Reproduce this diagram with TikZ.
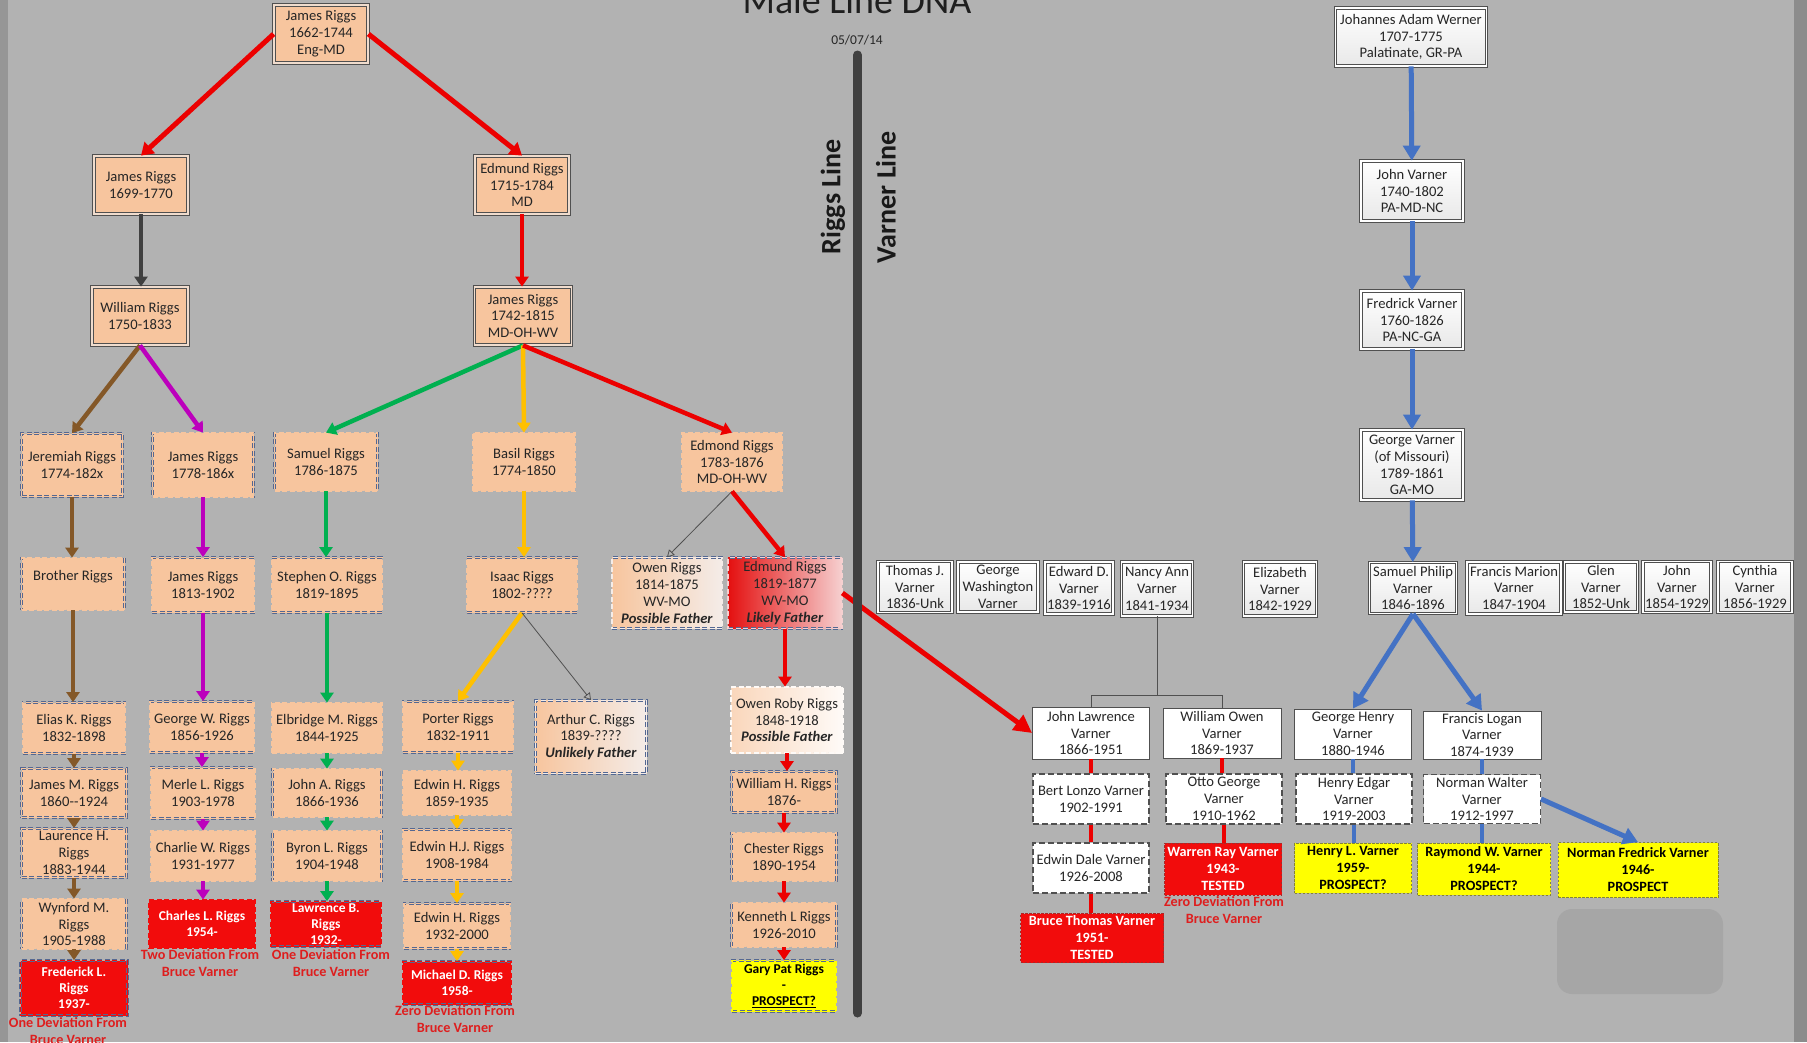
\documentclass[tikz,border=0pt]{standalone}
\usepackage{fontspec}
\setmainfont{Carlito}
\usetikzlibrary{arrows.meta}
\definecolor{bg}{RGB}{178,178,178}
\definecolor{bgl}{RGB}{150,150,150}
\definecolor{bgr}{RGB}{140,140,140}
\definecolor{peach}{RGB}{247,197,158}
\definecolor{peachlt}{RGB}{240,220,205}
\definecolor{peachwh}{RGB}{244,236,232}
\definecolor{txt}{RGB}{38,38,38}
\definecolor{bdr}{RGB}{80,80,80}
\definecolor{dsh}{RGB}{84,104,146}
\definecolor{rd}{RGB}{236,0,0}
\definecolor{boxred}{RGB}{242,12,12}
\definecolor{egl}{RGB}{228,16,16}
\definecolor{egr}{RGB}{246,208,208}
\definecolor{brn}{RGB}{132,88,40}
\definecolor{mag}{RGB}{188,0,188}
\definecolor{grn}{RGB}{0,176,80}
\definecolor{yel}{RGB}{255,192,0}
\definecolor{blu}{RGB}{68,114,196}
\definecolor{dgray}{RGB}{64,64,64}
\definecolor{devred}{RGB}{222,30,30}
\definecolor{yfill}{RGB}{255,255,0}
\definecolor{yb}{RGB}{130,130,60}
\definecolor{rb}{RGB}{170,40,40}
\definecolor{vgray}{RGB}{232,232,232}
\definecolor{rrect}{RGB}{166,166,166}
\newcommand\myfs{\fontsize{14.6}{16.8}\selectfont}
\newcommand\myfsb{\fontsize{13.5}{16}\selectfont\bfseries}
\newcommand\myfsbb{\fontsize{14.2}{17}\selectfont\bfseries}
\tikzset{
  base/.style={rectangle, inner sep=0pt, align=center, font=\myfs, text=txt},
  sz/.style 2 args={minimum width=#1, minimum height=#2},
  rtop/.style={base, fill=peach, draw=bdr, line width=0.8pt, double=peachlt, double distance=1.8pt},
  rdash/.style={base, fill=peach, draw=dsh, line width=0.75pt, dash pattern=on 5pt off 2.5pt, double=peach, double distance=1.4pt},
  rgrad/.style={rdash, left color=peach, right color=peachwh, double=peachwh},
  rred/.style={rdash, fill=boxred, double=boxred, text=white, font=\myfsb},
  ryel/.style={rdash, fill=yfill, double=yfill, text=black, font=\myfsb},
  vtop/.style={base, top color=white, bottom color=vgray, draw=bdr, line width=0.8pt, double=white, double distance=1.5pt},
  vwhite/.style={base, fill=white, draw=bdr, line width=0.9pt},
  vdash/.style={base, fill=white, draw=bdr, line width=1.1pt, dash pattern=on 6pt off 3pt},
  vyel/.style={base, fill=yfill, draw=yb, line width=0.7pt, dash pattern=on 2.5pt off 1.5pt, font=\myfsbb, text=black},
  vred/.style={base, fill=boxred, draw=rb, line width=0.7pt, dash pattern=on 2.5pt off 1.5pt, font=\myfsbb, text=white},
  dev/.style={font=\myfsbb, text=devred, align=center, inner sep=0pt},
  conn/.style={line width=4.5pt, -{Triangle[length=10pt,width=13pt]}},
  bigconn/.style={line width=5pt, -{Triangle[length=12pt,width=15pt]}},
  bconn/.style={line width=5pt, draw=blu, -{Triangle[length=15pt,width=17pt]}},
  thinarr/.style={line width=0.8pt, draw=bdr, -{Triangle[open,length=7pt,width=8pt]}},
  seg/.style={line width=4pt},
}
\begin{document}
\begin{tikzpicture}[x=1pt,y=-1pt]
\useasboundingbox (0,0) rectangle (1807,1042);
\fill[bg] (0,0) rectangle (1807,1042);
\fill[bgl] (0,0) rectangle (8,1042);
\fill[bgr] (1794,0) rectangle (1807,1042);

% title
\node[font=\fontsize{38}{40}\selectfont, anchor=base, text=black!88, inner sep=0pt] (title) at (857,13) {Male Line DNA};
\node[font=\fontsize{13.5}{15}\selectfont, text=txt, inner sep=0pt] (date) at (857,40) {05/07/14};

% ---------- Riggs upper ----------
\node[rtop, sz={94}{58}] (r1) at (321,34) {James Riggs\\1662-1744\\Eng-MD};
\node[rtop, sz={94}{58}] (r2) at (141,185) {James Riggs\\1699-1770};
\node[rtop, sz={94}{58}] (r3) at (522,185) {Edmund Riggs\\1715-1784\\MD};
\node[rtop, sz={96}{58}] (r4) at (140,316) {William Riggs\\1750-1833};
\node[rtop, sz={97}{58}] (r5) at (523,316) {James Riggs\\1742-1815\\MD-OH-WV};

% row 1
\node[rdash, sz={101}{63}] (j1) at (72,465) {Jeremiah Riggs\\1774-182x};
\node[rdash, sz={101}{64}] (m1) at (203,465) {James Riggs\\1778-186x};
\node[rdash, sz={103}{58}] (g1) at (326,462) {Samuel Riggs\\1786-1875};
\node[rdash, sz={102}{58}] (y1) at (524,462) {Basil Riggs\\1774-1850};
\node[rdash, sz={100}{58}] (e1) at (732,462) {Edmond Riggs\\1783-1876\\MD-OH-WV};

% row 2
\node[rdash, sz={103}{52}] (j2) at (73,584) {Brother Riggs\\\mbox{}};
\node[rdash, sz={102}{55}] (m2) at (203,585) {James Riggs\\1813-1902};
\node[rdash, sz={110}{55}] (g2) at (327,585) {Stephen O. Riggs\\1819-1895};
\node[rdash, sz={110}{55}] (y2) at (522,585) {Isaac Riggs\\1802-????};
\node[rgrad, sz={110}{71}] (o1) at (667,593) {Owen Riggs\\1814-1875\\WV-MO\\\textbf{\textit{Possible Father}}};
\node[rdash, left color=egl, right color=egr, double=egr, sz={114}{71}] (e2) at (785,593) {Edmund Riggs\\1819-1877\\WV-MO\\\textbf{\textit{Likely Father}}};

% row 3
\node[rdash, sz={102}{51}] (j3) at (74,728) {Elias K. Riggs\\1832-1898};
\node[rdash, sz={104}{51}] (m3) at (202,727) {George W. Riggs\\1856-1926};
\node[rdash, sz={110}{50}] (g3) at (327,728) {Elbridge M. Riggs\\1844-1925};
\node[rdash, sz={110}{51}] (y3) at (458,727) {Porter Riggs\\1832-1911};
\node[rgrad, sz={111}{73}] (a1) at (591,737) {Arthur C. Riggs\\1839-????\\\textbf{\textit{Unlikely Father}}};
\node[rgrad, left color=peach!70!white, right color=white!92!peach, double=white!92!peach, sz={112}{66}] (e3) at (787,720) {Owen Roby Riggs\\1848-1918\\\textbf{\textit{Possible Father}}};

% row 4
\node[rdash, sz={105}{49}] (j4) at (74,793) {James M. Riggs\\1860-{}-1924};
\node[rdash, sz={104}{51}] (m4) at (203,793) {Merle L. Riggs\\1903-1978};
\node[rdash, sz={109}{48}] (g4) at (327,793) {John A. Riggs\\1866-1936};
\node[rdash, sz={108}{44}] (y4) at (457,793) {Edwin H. Riggs\\1859-1935};
\node[rdash, sz={105}{41}] (e4) at (784,792) {William H. Riggs\\1876-};

% row 5
\node[rdash, sz={105}{49}] (j5) at (74,853) {Laurence H.\\Riggs\\1883-1944};
\node[rdash, sz={104}{50}] (m5) at (203,856) {Charlie W. Riggs\\1931-1977};
\node[rdash, sz={109}{50}] (g5) at (327,856) {Byron L. Riggs\\1904-1948};
\node[rdash, sz={108}{51}] (y5) at (457,855) {Edwin H.J. Riggs\\1908-1984};
\node[rdash, sz={105}{48}] (e5) at (784,857) {Chester Riggs\\1890-1954};

% row 6
\node[rdash, sz={105}{50}] (j6) at (74,924) {Wynford M.\\Riggs\\1905-1988};
\node[rred, sz={106}{48}] (m6) at (202,924) {Charles L. Riggs\\1954-};
\node[rred, sz={110}{45}] (g6) at (326,924) {Lawrence B.\\Riggs\\1932-};
\node[rdash, sz={106}{45}] (y6) at (457,926) {Edwin H. Riggs\\1932-2000};
\node[rdash, sz={105}{44}] (e6) at (784,925) {Kenneth L Riggs\\1926-2010};

% row 7
\node[rred, sz={107}{55}] (j7) at (74,988) {Frederick L.\\Riggs\\1937-};
\node[rred, sz={108}{43}] (y7) at (457,983) {Michael D. Riggs\\1958-};
\node[ryel, sz={104}{51}] (e7) at (784,986) {Gary Pat Riggs\\-\\\underline{PROSPECT?}};

% deviation labels
\node[dev, anchor=north] (d1) at (68,1017) {One Deviation From\\Bruce Varner};
\node[dev, anchor=north] (d2) at (200,949) {Two Deviation From\\Bruce Varner};
\node[dev, anchor=north] (d3) at (331,949) {One Deviation From\\Bruce Varner};
\node[dev, anchor=north] (d4) at (455,1005) {Zero Deviation From\\Bruce Varner};

% ---------- Varner ----------
\node[vtop, sz={151}{58}] (v1) at (1411,37) {Johannes Adam Werner\\1707-1775\\Palatinate, GR-PA};
\node[vtop, sz={102}{60}] (v2) at (1412,191) {John Varner\\1740-1802\\PA-MD-NC};
\node[vtop, sz={102}{58}] (v3) at (1412,320) {Fredrick Varner\\1760-1826\\PA-NC-GA};
\node[vtop, sz={102}{70}] (v4) at (1412,465) {George Varner\\(of Missouri)\\1789-1861\\GA-MO};

\node[vtop, sz={74}{51}] (s1) at (915,587) {Thomas J.\\Varner\\1836-Unk};
\node[vtop, sz={80}{50}] (s2) at (998,587) {George\\Washington\\Varner};
\node[vtop, sz={68}{52}] (s3) at (1079,588) {Edward D.\\Varner\\1839-1916};
\node[vtop, sz={71}{54}] (s4) at (1157,589) {Nancy Ann\\Varner\\1841-1934};
\node[vtop, sz={73}{54}] (s5) at (1280,589) {Elizabeth\\Varner\\1842-1929};
\node[vtop, sz={87}{51}] (s6) at (1413,588) {Samuel Philip\\Varner\\1846-1896};
\node[vtop, sz={94}{52}] (s7) at (1514,588) {Francis Marion\\Varner\\1847-1904};
\node[vtop, sz={73}{50}] (s8) at (1601,587) {Glen\\Varner\\1852-Unk};
\node[vtop, sz={68}{51}] (s9) at (1677,587) {John\\Varner\\1854-1929};
\node[vtop, sz={74}{51}] (s10) at (1755,587) {Cynthia\\Varner\\1856-1929};

\node[vwhite, sz={117}{52}] (w1) at (1091,733) {John Lawrence\\Varner\\1866-1951};
\node[vwhite, sz={118}{50}] (w2) at (1222,733) {William Owen\\Varner\\1869-1937};
\node[vwhite, sz={117}{50}] (w3) at (1353,734) {George Henry\\Varner\\1880-1946};
\node[vwhite, sz={118}{48}] (w4) at (1482,735) {Francis Logan\\Varner\\1874-1939};

\node[vdash, sz={116}{50}] (x1) at (1091,799) {Bert Lonzo Varner\\1902-1991};
\node[vdash, sz={116}{50}] (x2) at (1224,799) {Otto George\\Varner\\1910-1962};
\node[vdash, sz={116}{50}] (x3) at (1354,799) {Henry Edgar\\Varner\\1919-2003};
\node[vdash, sz={117}{49}] (x4) at (1482,799) {Norman Walter\\Varner\\1912-1997};

\node[vdash, sz={116}{50}] (z1) at (1091,868) {Edwin Dale Varner\\1926-2008};
\node[vred, sz={117}{52}] (z2) at (1223,869) {Warren Ray Varner\\1943-\\TESTED};
\node[vyel, sz={117}{50}] (z3) at (1353,868) {Henry L. Varner\\1959-\\PROSPECT?};
\node[vyel, sz={133}{52}] (z4) at (1484,869) {Raymond W. Varner\\1944-\\PROSPECT?};
\node[vyel, sz={160}{55}] (z5) at (1638,870) {Norman Fredrick Varner\\1946-\\PROSPECT};
\node[vred, sz={143}{49}] (b1) at (1092,938) {Bruce Thomas Varner\\1951-\\TESTED};
\node[dev, anchor=north] (d5) at (1224,896) {Zero Deviation From\\Bruce Varner};

\fill[rrect, rounded corners=15pt] (1557,909) rectangle (1723,994);

% ---------- Riggs connectors ----------
\draw[bigconn, rd] (r1.west) -- (r2.north);
\draw[bigconn, rd] (r1.east) -- (r3.north);
\draw[conn, dgray] (r2.south) -- (r2.south |- r4.north);
\draw[conn, rd] (r3.south) -- (r3.south |- r5.north);
\draw[conn, brn] (r4.south) -- (j1.north);
\draw[conn, mag] (r4.south) -- (m1.north);
\draw[conn, grn] (r5.south) -- (g1.north);
\draw[conn, yel] (r5.south) -- (y1.north);
\draw[conn, rd] (r5.south) -- (e1.north);
\foreach \a/\b in {j1/j2,j2/j3,j3/j4,j4/j5,j5/j6,j6/j7}
  \draw[conn, brn] (\a.south) -- (\a.south |- \b.north);
\foreach \a/\b in {m1/m2,m2/m3,m3/m4,m4/m5,m5/m6}
  \draw[conn, mag] (\a.south) -- (\a.south |- \b.north);
\foreach \a/\b in {g1/g2,g2/g3,g3/g4,g4/g5,g5/g6}
  \draw[conn, grn] (\a.south) -- (\a.south |- \b.north);
\draw[conn, yel] (y1.south) -- (y1.south |- y2.north);
\draw[conn, yel] (y2.south) -- (y3.north);
\foreach \a/\b in {y3/y4,y4/y5,y5/y6,y6/y7}
  \draw[conn, yel] (\a.south) -- (\a.south |- \b.north);
\draw[thinarr] (y2.south) -- (a1.north);
\draw[thinarr] (e1.south) -- (o1.north);
\draw[conn, rd] (e1.south) -- (e2.north);
\foreach \a/\b in {e2/e3,e3/e4,e4/e5,e5/e6,e6/e7}
  \draw[conn, rd] (\a.south) -- (\a.south |- \b.north);
\draw[line width=5pt, rd, -{Triangle[length=18pt,width=18pt]}] (e2.east) -- (w1.west);

% ---------- Varner connectors ----------
\draw[bconn] (v1) -- (v2);
\draw[bconn] (v2) -- (v3);
\draw[bconn] (v3) -- (v4);
\draw[bconn] (v4) -- (s6);
\draw[bconn] (s6.south) -- (w3.north);
\draw[bconn] (s6.south) -- (w4.north);
\draw[bconn] (x4.east) -- (z5.north);
\coordinate (nb) at (1157,695);
\draw[bdr, line width=0.9pt] (s4.south) -- (nb);
\draw[bdr, line width=0.9pt] (w1.north) |- (nb) -| (w2.north);
\draw[seg, rd] (w1.south) -- (w1.south |- x1.north);
\draw[seg, rd] (x1.south) -- (x1.south |- z1.north);
\draw[seg, rd] (z1.south) -- (z1.south |- b1.north);
\draw[seg, rd] (w2.south) -- (w2.south |- x2.north);
\draw[seg, rd] (x2.south) -- (x2.south |- z2.north);
\draw[seg, blu] (w3.south) -- (w3.south |- x3.north);
\draw[seg, blu] (x3.south) -- (x3.south |- z3.north);
\draw[seg, blu] (w4.south) -- (w4.south |- x4.north);
\draw[seg, blu] (x4.south) -- (x4.south |- z4.north);

% ---------- divider ----------
\coordinate (bartop) at (857.5,55);
\coordinate (barbot) at (857.5,1013);
\draw[line width=9pt, dgray, line cap=round] (bartop) -- (barbot);
\node[rotate=90, font=\fontsize{28}{30}\selectfont\bfseries, text=black!90, inner sep=0pt] (rl) at (833,197) {Riggs Line};
\node[rotate=90, font=\fontsize{28}{30}\selectfont\bfseries, text=black!90, inner sep=0pt] (vl) at (886,197) {Varner Line};
\end{tikzpicture}
\end{document}
